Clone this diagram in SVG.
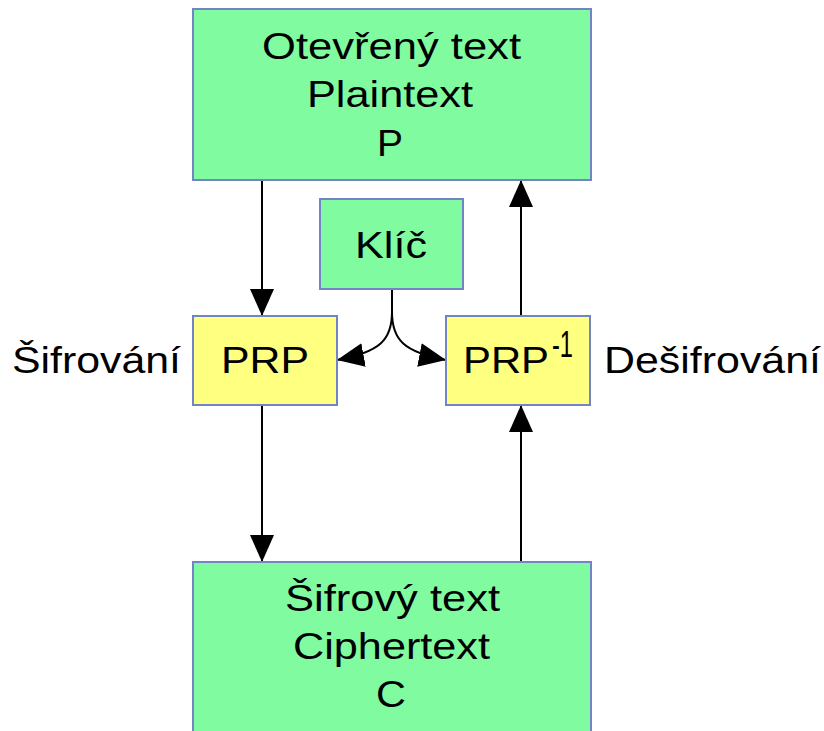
<svg xmlns="http://www.w3.org/2000/svg" width="824" height="731" viewBox="0 0 824 731">
<style>
.g{fill:#80fba0;stroke:#7283c8;stroke-width:2}
.y{fill:#ffff80;stroke:#7283c8;stroke-width:2}
text{font-family:"Liberation Sans",Arial,sans-serif;font-size:37px;fill:#000}
.ln{fill:none;stroke:#000;stroke-width:2}
</style>
<defs>
<marker id="ah" markerUnits="userSpaceOnUse" markerWidth="30" markerHeight="26" refX="27" refY="12" orient="auto">
<path d="M0,0 L27,12 L0,24 Z" fill="#000"/>
</marker>
</defs>
<rect width="824" height="731" fill="#fff"/>
<g id="connectors">
<path class="ln" d="M262,180 L262,316" marker-end="url(#ah)"/>
<path class="ln" d="M262,405 L262,562" marker-end="url(#ah)"/>
<path class="ln" d="M521,562 L521,405" marker-end="url(#ah)"/>
<path class="ln" d="M521,316 L521,180" marker-end="url(#ah)"/>
<path class="ln" d="M392,289 L392,312 C392,340 380,352 337,360" marker-end="url(#ah)"/>
<path class="ln" d="M392,289 L392,312 C392,340 404,352 446,360" marker-end="url(#ah)"/>
</g>
<g id="plaintext">
<rect class="g" x="193" y="9" width="398" height="171"/>
<text x="262" y="59" textLength="259" lengthAdjust="spacingAndGlyphs">Otevřený text</text>
<text x="307" y="107" textLength="166" lengthAdjust="spacingAndGlyphs">Plaintext</text>
<text x="377" y="156" textLength="26" lengthAdjust="spacingAndGlyphs">P</text>
</g>
<g id="key">
<rect class="g" x="320" y="199" width="143" height="90"/>
<text x="355" y="258" textLength="72" lengthAdjust="spacingAndGlyphs">Klíč</text>
</g>
<g id="prp">
<rect class="y" x="193" y="316" width="144" height="89"/>
<text x="221" y="373" textLength="88" lengthAdjust="spacingAndGlyphs">PRP</text>
</g>
<g id="prpinv">
<rect class="y" x="446" y="316" width="144" height="89"/>
<text x="463" y="373" textLength="86" lengthAdjust="spacingAndGlyphs">PRP</text>
<text x="552" y="357" font-size="14" textLength="21" lengthAdjust="spacingAndGlyphs">-1</text>
</g>
<g id="ciphertext">
<rect class="g" x="193" y="562" width="398" height="180"/>
<text x="285" y="611" textLength="215" lengthAdjust="spacingAndGlyphs">Šifrový text</text>
<text x="293" y="659" textLength="197" lengthAdjust="spacingAndGlyphs">Ciphertext</text>
<text x="376" y="707" textLength="30" lengthAdjust="spacingAndGlyphs">C</text>
</g>
<g id="labels">
<text x="12" y="373" textLength="169" lengthAdjust="spacingAndGlyphs">Šifrování</text>
<text x="604" y="373" textLength="217" lengthAdjust="spacingAndGlyphs">Dešifrování</text>
</g>
</svg>
